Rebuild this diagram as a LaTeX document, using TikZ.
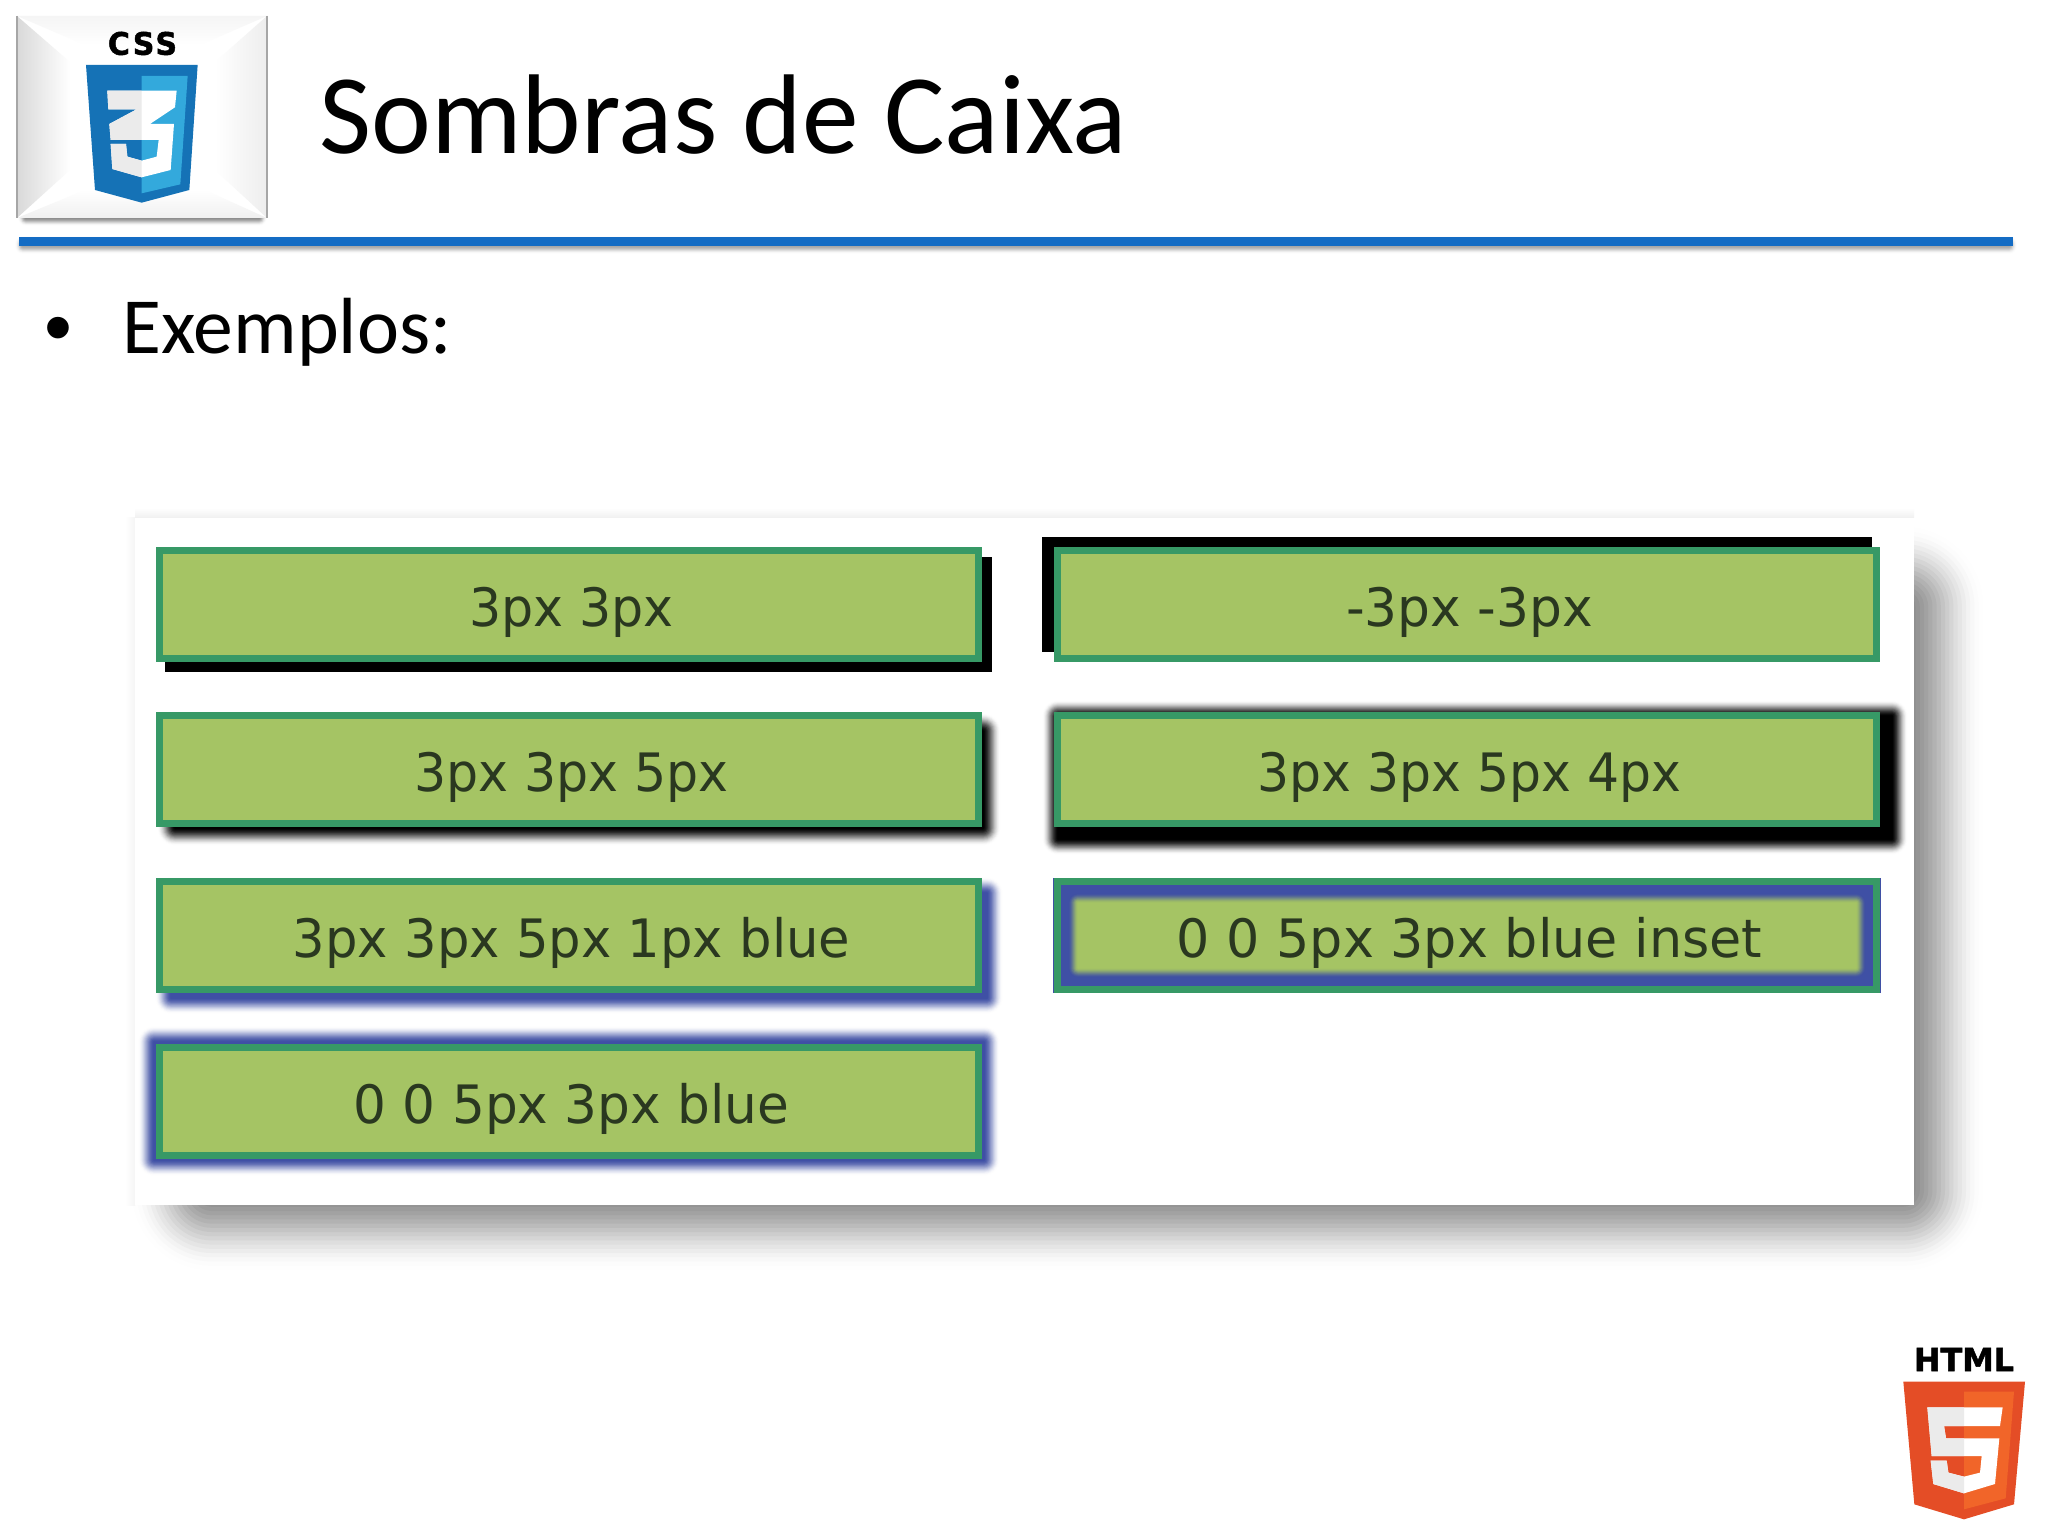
\documentclass[tikz,border=0pt]{standalone}
\usepackage{fontspec}
\usepackage{graphicx}
\setmainfont{Carlito}
\newfontfamily\btnfont{DejaVu Sans}
\newfontfamily\logofont[FakeBold=1.6]{DejaVu Sans Bold}
\newfontfamily\cssfont[FakeBold=1.6,LetterSpace=8]{DejaVu Sans Bold}
\newfontfamily\bulfont{Liberation Sans}
\definecolor{btnfill}{HTML}{A5C464}
\definecolor{btnline}{HTML}{379966}
\definecolor{btntext}{HTML}{2A3820}
\definecolor{shblue}{HTML}{3F50A5}
\definecolor{rulecol}{HTML}{146CC4}
\definecolor{cssdark}{HTML}{1572B6}
\definecolor{csslight}{HTML}{33A9DC}
\definecolor{htmldark}{HTML}{E44D26}
\definecolor{htmllight}{HTML}{F16529}
\definecolor{panelshadow}{HTML}{888888}
\definecolor{smoke}{HTML}{EBEBEB}
\definecolor{bannershadow}{HTML}{8C8C8C}
\definecolor{ruleshadow}{HTML}{A6A6A6}
\newcommand{\blurbox}[7]{%
  \foreach \bk in {0,...,20}{%
    \pgfmathsetmacro\bt{\bk/20}%
    \pgfmathsetmacro\bd{#5*(1-2*\bt)}%
    \pgfmathsetmacro\bp{100*\bt*\bt*(3-2*\bt)}%
    \pgfmathsetmacro\brc{max(#5+\bd,0.01)*0.35}%
    \fill[#6!\bp!#7,rounded corners=\brc pt] ({#1-\bd},{#2-\bd}) rectangle ({#3+\bd},{#4+\bd});
  }%
}
\newcommand{\btnx}[2]{\hspace*{1.76pt}\scalebox{#1}[1]{#2}}
\newcommand{\threepath}{(322,272) -- (530,272) -- (525,322) -- (450,372) -- (522,372) -- (512,510) -- (425,532) -- (337,507) -- (332,432) -- (378,432) -- (382,470) -- (425,482) -- (470,470) -- (476,420) -- (332,420) -- (328,372) -- (410,328) -- (325,328) -- cycle}
\newcommand{\fivepath}{(142,232) -- (368,232) -- (360,288) -- (192,288) -- (198,325) -- (358,325) -- (345,462) -- (252,490) -- (160,462) -- (152,392) -- (200,392) -- (205,428) -- (252,440) -- (300,428) -- (305,378) -- (155,378) -- cycle}
\tikzset{
  btn/.style={draw=btnline,line width=2.46pt,inner sep=0pt,outer sep=0pt,
    minimum width=287.9pt,minimum height=37.97pt,text height=19.34pt,text depth=3.87pt,
    text=btntext,font=\btnfont\fontsize{18.6}{20}\selectfont,fill=btnfill},
  btnclear/.style={btn,fill=none},
  titletext/.style={anchor=base west,inner sep=0pt,font=\fontsize{39.85}{44}\selectfont},
  bodytext/.style={anchor=base west,inner sep=0pt,font=\fontsize{28}{32}\selectfont},
}
\begin{document}
\begin{tikzpicture}[x=0.3515625pt,y=-0.3515625pt]
\useasboundingbox (0,0) rectangle (2048,1536);
\fill[white] (0,0) rectangle (2048,1536);

% CSS banner
\blurbox{22}{30}{263}{222}{4}{bannershadow}{white}
\fill[white] (17,16) rectangle (267,218);
\shade[left color=black!15,right color=white] (17,16) -- (70,62) -- (70,170) -- (17,218) -- cycle;
\shade[top color=black!4,bottom color=white] (17,16) -- (267,16) -- (200,45) -- (85,45) -- cycle;
\shade[right color=black!7,left color=white] (267,16) -- (215,62) -- (215,170) -- (267,218) -- cycle;
\shade[bottom color=black!6,top color=white] (17,218) -- (267,218) -- (205,190) -- (85,190) -- cycle;
\draw[black!35,line width=0.4pt] (17,218) -- (17,16) (267,16) -- (267,218);
\begin{scope}[scale=1/3]
  \fill[cssdark] (258,195) -- (593,195) -- (568,570) -- (425,608) -- (285,570) -- cycle;
  \fill[csslight] (425,228) -- (563,228) -- (541,553) -- (425,580) -- cycle;
  \fill[white] \threepath;
  \begin{scope}
    \clip (300,250) rectangle (425,550);
    \fill[smoke] \threepath;
  \end{scope}
\end{scope}
\node[inner sep=0pt] (csslabel) at (142.5,43.5) {\resizebox{24.3pt}{8.1pt}{\cssfont CSS}};

% Title and rule
\node[titletext] (title) at (319,154) {Sombras de Caixa};
\blurbox{19}{240}{2013}{250}{4}{ruleshadow}{white}
\fill[rulecol] (19,237) rectangle (2013,246);
\node[inner sep=0pt,anchor=base,font=\bulfont\fontsize{28}{32}\selectfont] (bullet) at (58,355) {•};
\node[bodytext] (body) at (122,354) {Exemplos:};

% Panel
\blurbox{170}{565}{1945}{1232}{42}{panelshadow}{white}
\shade[top color=white,bottom color=black!6] (135,508) rectangle (1914,518);
\shade[left color=white,right color=black!4] (125,518) rectangle (135,1205);
\node[fill=white,inner sep=0pt,outer sep=0pt,minimum width=625.4pt,minimum height=241.5pt] (panel) at (1024.5,861.5) {};

% Shadows
\fill[black] (165,557) rectangle (992,672);
\fill[black] (1042,537) rectangle (1872,652);
\blurbox{166}{722}{992}{837}{9}{black}{white}
\blurbox{1050}{708}{1900}{847}{8}{black}{white}
\blurbox{163}{885}{995}{1006}{8}{shblue}{white}
\blurbox{146}{1034}{992}{1168}{8}{shblue}{white}

% Buttons
\node[btn] (b1) at (569,604.5) {\btnx{.957}{3px 3px}};
\node[btn] (b2) at (1467,604.5) {\btnx{.979}{-3px -3px}};
\node[btn] (b3) at (569,769.5) {\btnx{.956}{3px 3px 5px}};
\node[btn] (b4) at (1467,769.5) {\btnx{.953}{3px 3px 5px 4px}};
\node[btn] (b5) at (569,935.5) {\btnx{.968}{3px 3px 5px 1px blue}};
\node[btn] (b7) at (569,1101) {\btnx{.977}{0 0 5px 3px blue}};
\fill[shblue] (1053,878) rectangle (1881,993);
\blurbox{1073}{898}{1861}{973}{5}{btnfill}{shblue}
\node[btnclear] (b6) at (1467,935.5) {\btnx{.989}{0 0 5px 3px blue inset}};

% HTML logo
\begin{scope}[shift={(1880,1330)},scale=1/3]
  \fill[htmldark] (70,155) -- (435,155) -- (402,523) -- (252,568) -- (103,523) -- cycle;
  \fill[htmllight] (252,185) -- (402,185) -- (377,505) -- (252,538) -- cycle;
  \fill[white] \fivepath;
  \begin{scope}
    \clip (120,220) rectangle (252,500);
    \fill[smoke] \fivepath;
  \end{scope}
\end{scope}
\node[inner sep=0pt] (htmllabel) at (1964,1359.5) {\resizebox{35.2pt}{8.1pt}{\logofont HTML}};
\end{tikzpicture}
\end{document}
